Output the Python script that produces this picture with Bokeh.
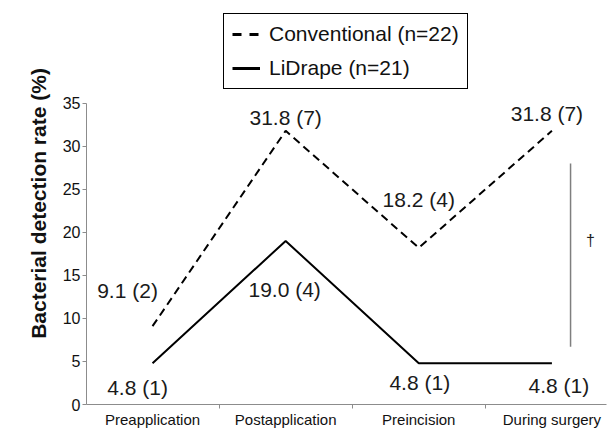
from bokeh.plotting import figure
from bokeh.models import FixedTicker, Legend, LegendItem, ColumnDataSource, Range1d, Label
from bokeh.core.properties import value
from bokeh.embed import file_html
from bokeh.resources import INLINE

categories = ["Preapplication", "Postapplication", "Preincision", "During surgery"]
conventional = [9.1, 31.8, 18.2, 31.8]
conventional_n = [2, 7, 4, 7]
lidrape = [4.8, 19.0, 4.8, 4.8]
lidrape_n = [1, 4, 1, 1]
y_ticks = [0, 5, 10, 15, 20, 25, 30, 35]
sig_label = "†"

FONT = "Liberation Sans"
xs = list(range(len(categories)))

p = figure(width=610, height=430, output_backend="svg", toolbar_location=None,
           x_range=Range1d(-0.496, 3.41), y_range=Range1d(0, 46.71),
           min_border_left=86, min_border_right=4, min_border_top=2, min_border_bottom=25)
p.grid.visible = False
p.outline_line_color = None
p.background_fill_color = "white"
p.border_fill_color = "white"

# axes
xa = p.xaxis[0]
xa.ticker = FixedTicker(ticks=xs, minor_ticks=[-0.5, 0.5, 1.5, 2.5, 3.5])
xa.major_label_overrides = {i: c for i, c in zip(xs, categories)}
xa.major_tick_out = 0
xa.major_tick_in = 0
xa.minor_tick_out = 4
xa.minor_tick_in = 0
xa.minor_tick_line_color = "#8c8c8c"
xa.axis_line_color = "#8c8c8c"
xa.major_label_text_font = FONT
xa.major_label_text_font_size = "15px"
xa.major_label_text_color = "#111111"
xa.major_label_standoff = 2

ya = p.yaxis[0]
ya.ticker = FixedTicker(ticks=y_ticks)
ya.bounds = (0, 35)
ya.minor_tick_line_color = None
ya.major_tick_out = 4
ya.major_tick_in = 0
ya.major_tick_line_color = "#8c8c8c"
ya.axis_line_color = "#8c8c8c"
ya.major_label_text_font = FONT
ya.major_label_text_font_size = "16px"
ya.major_label_text_color = "#111111"
ya.major_label_standoff = 2
ya.axis_label = "Bacterial detection rate (%)"
ya.axis_label_text_font = FONT
ya.axis_label_text_font_size = "21px"
ya.axis_label_text_font_style = "bold"
ya.axis_label_text_color = "#111111"
ya.axis_label_standoff = 10

# lines
p.line(xs, conventional, line_color="black", line_width=2, line_dash="8 5")
p.line(xs, lidrape, line_color="black", line_width=2)

# legend samples (thicker strokes, as in the reference legend); a single point draws nothing in the plot
leg_conv = p.line(xs[:1], conventional[:1], line_color="black", line_width=3, line_dash="9 8")
leg_li = p.line(xs[:1], lidrape[:1], line_color="black", line_width=3)

# data labels
conv_off = [(-25, -36), (0, -13), (0, -48), (-5, -17)]
li_off = [(-15, 24), (-1, 49), (1, 19), (7, 22)]

def add_labels(vals, ns, offs):
    src = ColumnDataSource(dict(
        x=xs, y=vals,
        t=["%.1f (%d)" % (v, n) for v, n in zip(vals, ns)],
        dx=[o[0] for o in offs], dy=[o[1] for o in offs]))
    p.text(x="x", y="y", text="t", x_offset="dx", y_offset="dy", source=src,
           text_font=value(FONT), text_font_size="21px", text_color="#1a1a1a",
           text_align="center", text_baseline="middle")

add_labels(conventional, conventional_n, conv_off)
add_labels(lidrape, lidrape_n, li_off)

# significance bracket
p.segment(x0=[3.14], y0=[6.7], x1=[3.14], y1=[28.0], line_color="#7f7f7f", line_width=1.5)
p.add_layout(Label(x=3.29, y=19.1, text=sig_label, text_font=FONT, text_font_size="16px",
                   text_color="#222222", text_align="center", text_baseline="middle"))

legend = Legend(items=[LegendItem(label="Conventional (n=22)", renderers=[leg_conv]),
                       LegendItem(label="LiDrape (n=21)", renderers=[leg_li])],
                location=(137, 315), orientation="vertical")
legend.label_text_font = FONT
legend.label_text_font_size = "21px"
legend.label_text_color = "#111111"
legend.glyph_width = 28
legend.glyph_height = 24
legend.label_height = 24
legend.label_standoff = 9
legend.spacing = 10
legend.padding = 8
legend.margin = 0
legend.border_line_color = "black"
legend.border_line_alpha = 1
legend.border_line_width = 1
legend.background_fill_alpha = 1
p.add_layout(legend, "center")

open("out.html", "w").write(file_html(p, INLINE))
